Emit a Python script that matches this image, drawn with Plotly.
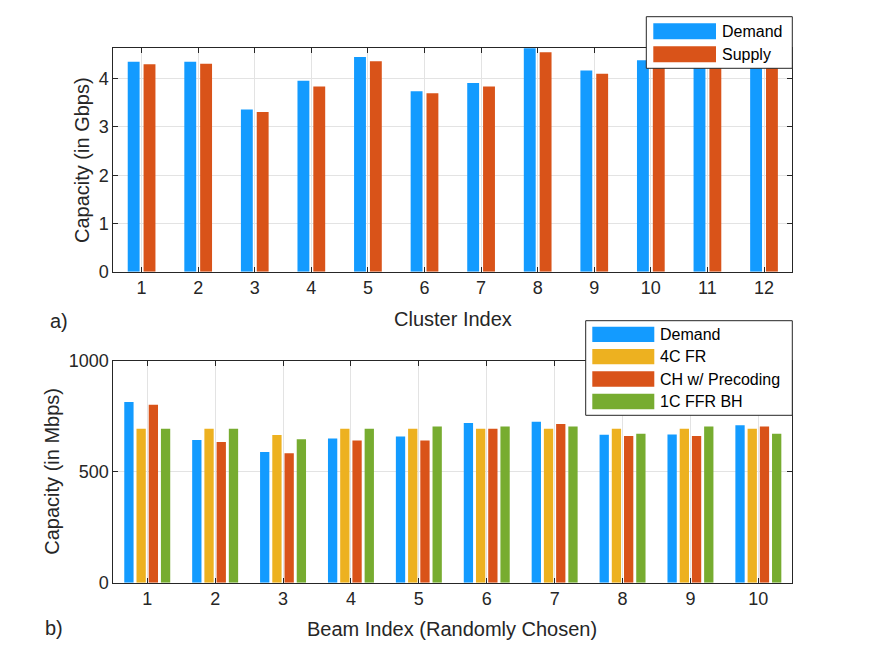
import plotly.graph_objects as go

# ---- data ----
clusters = [1, 2, 3, 4, 5, 6, 7, 8, 9, 10, 11, 12]
cluster_demand = [4.35, 4.35, 3.36, 3.96, 4.45, 3.74, 3.91, 4.66, 4.17, 4.38, 4.42, 4.36]
cluster_supply = [4.30, 4.31, 3.31, 3.84, 4.36, 3.70, 3.84, 4.55, 4.10, 4.33, 4.36, 4.30]

beams = [1, 2, 3, 4, 5, 6, 7, 8, 9, 10]
beam_demand = [814, 643, 589, 649, 659, 719, 725, 667, 668, 709]
beam_4cfr = [694, 694, 665, 694, 694, 694, 694, 694, 694, 694]
beam_ch_prec = [802, 634, 583, 640, 640, 694, 715, 661, 661, 704]
beam_1cffr = [694, 694, 646, 694, 704, 704, 704, 671, 704, 671]

BLUE = "#139BFF"
ORANGE = "#D95319"
YELLOW = "#EDB120"
GREEN = "#77AC30"
FONT = "Liberation Sans, Arial, sans-serif"
AXC = "#262626"
GRID = "#E3E3E3"
W, H = 875, 657

def px(x):
    return x / W

def py(y):
    return 1 - y / H

fig = go.Figure()

# top panel: two bars per cluster
top_series = [(cluster_demand, "Demand", BLUE), (cluster_supply, "Supply", ORANGE)]
top_w, top_slot = 0.21, 0.28
for i, (vals, name, col) in enumerate(top_series):
    center = (i - (len(top_series) - 1) / 2) * top_slot
    fig.add_trace(go.Bar(x=clusters, y=vals, name=name, marker_color=col,
                         marker_line_width=0, xaxis="x", yaxis="y",
                         width=top_w, offset=center - top_w / 2, showlegend=False))

# bottom panel: four bars per beam
bot_series = [(beam_demand, "Demand", BLUE), (beam_4cfr, "4C FR", YELLOW),
              (beam_ch_prec, "CH w/ Precoding", ORANGE), (beam_1cffr, "1C FFR BH", GREEN)]
bot_w, bot_slot = 0.137, 0.18
for i, (vals, name, col) in enumerate(bot_series):
    center = (i - (len(bot_series) - 1) / 2) * bot_slot
    fig.add_trace(go.Bar(x=beams, y=vals, name=name, marker_color=col,
                         marker_line_width=0, xaxis="x2", yaxis="y2",
                         width=bot_w, offset=center - bot_w / 2, showlegend=False))

axis_common = dict(showline=True, linecolor=AXC, linewidth=1, mirror="ticks",
                   ticks="inside", ticklen=5, tickcolor=AXC, showgrid=True,
                   gridcolor=GRID, gridwidth=1, zeroline=False, automargin=False,
                   tickfont=dict(family=FONT, size=18, color="#262626"))

xd = [px(113.3), px(792.3)]
shapes = []
annotations = []

def text(t, x, y, size=20, angle=0, xanchor="center"):
    annotations.append(dict(text=t, x=px(x), y=py(y), xref="paper", yref="paper",
                            showarrow=False, textangle=angle, xanchor=xanchor,
                            yanchor="middle",
                            font=dict(family=FONT, size=size, color="#262626")))

# axis titles and panel labels
text("Cluster Index", 453, 319)
text("Capacity (in Gbps)", 82, 160, angle=-90)
text("Beam Index (Randomly Chosen)", 452, 629)
text("Capacity (in Mbps)", 52, 471.7, angle=-90)
text("a)", 59, 321)
text("b)", 54, 628)

def legend_box(x0, y0, x1, y1, sw_x0, sw_x1, text_x, items):
    shapes.append(dict(type="rect", xref="paper", yref="paper",
                       x0=px(x0), x1=px(x1), y0=py(y1), y1=py(y0),
                       fillcolor="white", line=dict(color=AXC, width=1), layer="above"))
    for (name, col, ya, yb) in items:
        shapes.append(dict(type="rect", xref="paper", yref="paper",
                           x0=px(sw_x0), x1=px(sw_x1), y0=py(yb), y1=py(ya),
                           fillcolor=col, line=dict(width=0), layer="above"))
        annotations.append(dict(text=name, x=px(text_x), y=py((ya + yb) / 2),
                                xref="paper", yref="paper", showarrow=False,
                                xanchor="left", yanchor="middle",
                                font=dict(family=FONT, size=16, color="black")))

legend_box(646.3, 16.7, 792.3, 68.3, 653.3, 716, 720,
           [(n, c, ya, yb) for (_, n, c), (ya, yb) in
            zip(top_series, [(23.3, 39.3), (46.3, 62.3)])])
legend_box(585.7, 320.7, 792.3, 415.3, 592.3, 654.3, 658,
           [(n, c, ya, yb) for (_, n, c), (ya, yb) in
            zip(bot_series, [(326.7, 342), (349, 364.3), (371.3, 386.7), (393.7, 409.3)])])

fig.update_layout(
    width=W, height=H,
    margin=dict(l=0, r=0, t=0, b=0),
    paper_bgcolor="white", plot_bgcolor="white",
    barmode="overlay",
    showlegend=False,
    xaxis=dict(domain=xd, anchor="y", range=[0.5, 12.5], tickmode="array",
               tickvals=clusters, ticktext=[str(c) for c in clusters], **axis_common),
    yaxis=dict(domain=[py(271.7), py(48.3)], anchor="x", range=[0, 4.63],
               tickvals=[0, 1, 2, 3, 4], **axis_common),
    xaxis2=dict(domain=xd, anchor="y2", range=[0.5, 10.5], tickmode="array",
                tickvals=beams, ticktext=[str(b) for b in beams], **axis_common),
    yaxis2=dict(domain=[py(582.7), py(360.7)], anchor="x2", range=[0, 1000],
                tickvals=[0, 500, 1000], **axis_common),
    shapes=shapes,
    annotations=annotations,
)
fig.write_html("out.html")
